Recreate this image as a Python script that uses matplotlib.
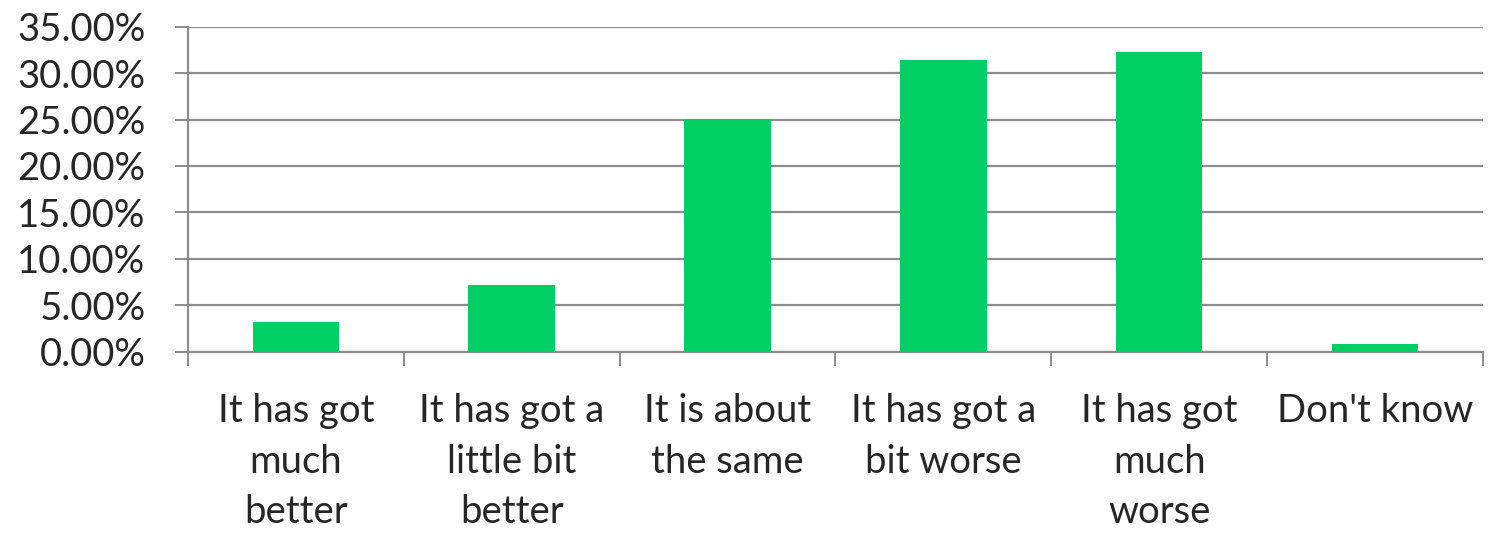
import numpy as np
import matplotlib.pyplot as plt
from matplotlib.ticker import FixedLocator, PercentFormatter

categories = ["It has got\nmuch\nbetter", "It has got a\nlittle bit\nbetter",
              "It is about\nthe same", "It has got a\nbit worse",
              "It has got\nmuch\nworse", "Don't know"]
shares = [3.23, 7.18, 25.05, 31.41, 32.24, 0.83]
y_ticks = [0, 5, 10, 15, 20, 25, 30, 35]

plt.rcParams['font.family'] = ['Lato', 'DejaVu Sans']
grey = '#8c8c8c'
txt = '#262626'

fig = plt.figure(figsize=(14.91, 5.33), dpi=100)
ax = fig.add_axes([0.126, 0.34, 0.8686, 0.61])

x = np.arange(len(categories))
ax.bar(x, shares, width=0.4, color='#00D064', zorder=3)

ax.set_xlim(-0.5, len(categories) - 0.5)
ax.set_ylim(0, 35)
ax.set_yticks(y_ticks)
ax.yaxis.set_major_formatter(PercentFormatter(decimals=2))
ax.grid(axis='y', color=grey, linewidth=1.6, zorder=0)

# category boundaries carry the tick marks, centres carry the labels
ax.xaxis.set_major_locator(FixedLocator(np.arange(-0.5, len(categories), 1.0)))
ax.xaxis.set_major_formatter(plt.NullFormatter())
ax.xaxis.set_minor_locator(FixedLocator(x))
ax.set_xticklabels(categories, minor=True, fontsize=27.5, color=txt, linespacing=1.5,
                   va='top')
ax.tick_params(axis='x', which='major', direction='out', length=10, width=1.4, color=grey)
ax.tick_params(axis='x', which='minor', length=0, pad=30)
ax.tick_params(axis='y', direction='out', length=9.5, width=1.4, color=grey,
               labelsize=27.5, labelcolor=txt, pad=21)

for s in ['top', 'right']:
    ax.spines[s].set_visible(False)
for s in ['left', 'bottom']:
    ax.spines[s].set_color(grey)
    ax.spines[s].set_linewidth(1.6)

fig.savefig('out.png', dpi=100)
